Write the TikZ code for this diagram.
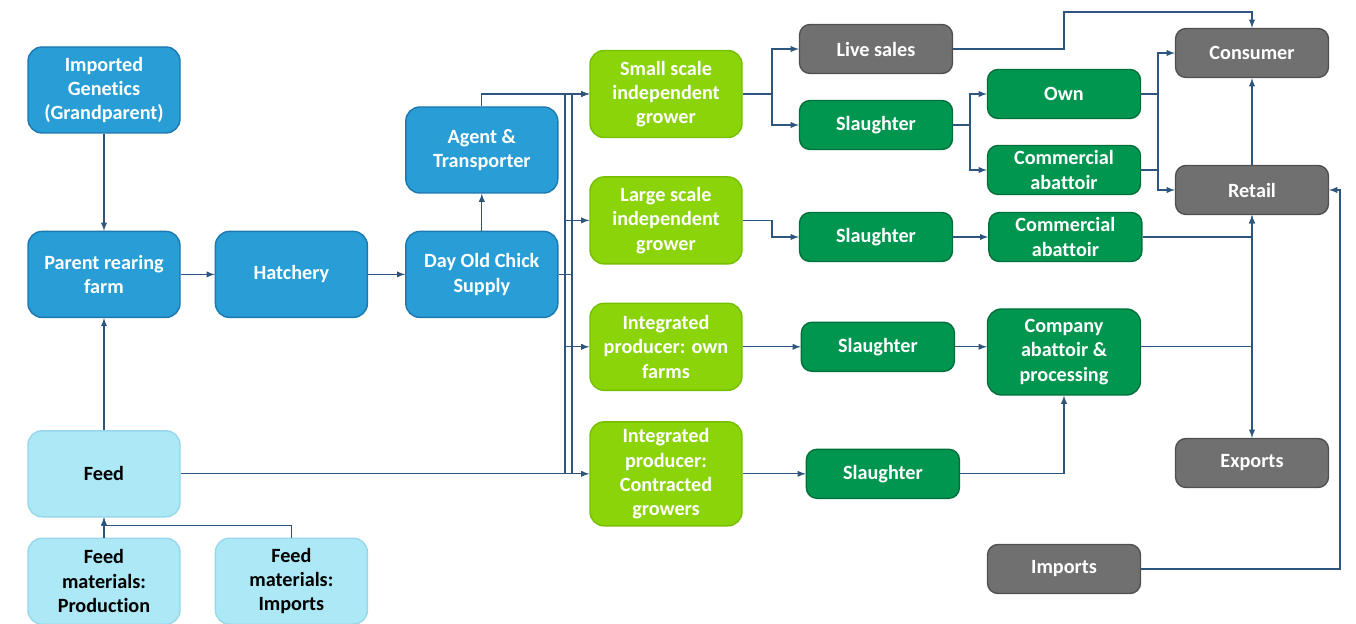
\documentclass[tikz,border=0pt]{standalone}
\usepackage{fontspec}
\setmainfont[Ligatures=NoCommon]{Carlito}
\usepackage{tikz}
\usetikzlibrary{arrows, positioning}
\definecolor{chainblue}{RGB}{41,158,214}
\definecolor{chainblueline}{RGB}{28,120,175}
\definecolor{feedcyan}{RGB}{172,232,246}
\definecolor{feedcyanline}{RGB}{150,215,235}
\definecolor{growgreen}{RGB}{140,212,10}
\definecolor{growgreenline}{RGB}{118,190,0}
\definecolor{slaughtergreen}{RGB}{0,150,80}
\definecolor{slaughtergreenline}{RGB}{0,112,58}
\definecolor{marketgrey}{RGB}{112,112,112}
\definecolor{marketgreyline}{RGB}{80,80,80}
\definecolor{flowline}{RGB}{45,85,125}
\tikzstyle{stage} = [rectangle, rounded corners=8pt, minimum width=3.04cm, minimum height=1.72cm, text centered, align=center, font=\bfseries\fontsize{11.5}{13.8}\selectfont, line width=0.8pt, inner sep=2pt]
\tikzstyle{supply} = [stage, draw=chainblueline, fill=chainblue, text=white]
\tikzstyle{feedbox} = [stage, draw=feedcyanline, fill=feedcyan, text=black]
\tikzstyle{grower} = [stage, draw=growgreenline, fill=growgreen, text=white, minimum height=1.74cm]
\tikzstyle{abattoir} = [stage, rounded corners=6pt, draw=slaughtergreenline, fill=slaughtergreen, text=white, minimum width=3.06cm, minimum height=0.98cm, inner sep=1pt]
\tikzstyle{market} = [abattoir, draw=marketgreyline, fill=marketgrey]
\tikzstyle{arrow} = [draw=flowline, line width=0.6pt, ->, >=latex]
\tikzstyle{link} = [draw=flowline, line width=0.6pt]

\begin{document}
\begin{tikzpicture}
\useasboundingbox (0,0) rectangle (27.12,-12.48);

% Breeding chain
\node (gen) [supply] at (2.08,-1.80) {Imported\\Genetics\\(Grandparent)};
\node (parent) [supply, below=1.94cm of gen] {Parent rearing\\farm};
\node (hatch) [supply, right=0.68cm of parent] {Hatchery};
\node (doc) [supply, right=0.74cm of hatch] {Day Old Chick\\Supply};
\node (agent) [supply, above=0.74cm of doc] {Agent \&\\Transporter};

% Feed
\node (feed) [feedbox, below=2.24cm of parent] {Feed};
\node (fmp) [feedbox, below=0.40cm of feed] {Feed\\materials:\\Production};
\node (fmi) [feedbox, right=0.68cm of fmp] {Feed\\materials:\\Imports};

% Growers
\node (sg) [grower] at (13.32,-1.88) {Small scale\\independent\\grower};
\node (lg) [grower, below=0.76cm of sg] {Large scale\\independent\\grower};
\node (io) [grower, below=0.76cm of lg] {Integrated\\producer: own\\farms};
\node (ic) [grower, minimum height=2.08cm] at (feed -| sg) {Integrated\\producer:\\Contracted\\growers};

% Slaughter
\node (live) [market] at (17.52,-0.98) {Live sales};
\node (sl1) [abattoir] at (17.52,-2.50) {Slaughter};
\node (sl2) [abattoir] at (17.52,-4.74) {Slaughter};
\node (sl3) [abattoir, right=1.16cm of io] {Slaughter};
\node (sl4) [abattoir, right=1.26cm of ic] {Slaughter};

% Abattoirs
\node (own) [abattoir] at (21.28,-1.88) {Own};
\node (ca1) [abattoir] at (21.28,-3.40) {Commercial\\abattoir};
\node (ca2) [abattoir, right=0.70cm of sl2] {Commercial\\abattoir};
\node (cap) [abattoir, minimum height=1.72cm, rounded corners=8pt] at (21.28,-7.04) {Company\\abattoir \&\\processing};

% Markets
\node (cons) [market] at (25.04,-1.06) {Consumer};
\node (retail) [market] at (25.04,-3.80) {Retail};
\node (exports) [market] at (25.04,-9.26) {Exports};
\node (imports) [market] at (21.28,-11.38) {Imports};

% Turning points
\coordinate (busA) at (11.30,0);
\coordinate (busB) at (11.44,0);
\coordinate (split1) at (15.44,0);
\coordinate (split2) at (19.40,0);
\coordinate (split3) at (23.16,0);
\coordinate (liveturn) at (21.28,-0.24);
\coordinate (importturn) at (26.80,0);

% Arrows
\draw [arrow] (gen) -- (parent);
\draw [arrow] (feed) -- (parent);
\draw [arrow] (parent) -- (hatch);
\draw [arrow] (hatch) -- (doc);
\draw [arrow] (doc) -- (agent);
\draw [arrow] (fmp) -- (feed);
\draw [arrow] (fmi.north) -- ++(0,0.24) -| (feed.south);

\draw [link] (busA |- sg.west) -- (busA |- ic.west);
\draw [link] (busB |- sg.west) -- (busB |- ic.west);
\draw [link] (doc.east) -- (doc.east -| busB);
\draw [arrow] (feed) -- (ic);
\draw [arrow] (agent.north) |- (sg.west);
\foreach \g in {sg, lg, io}
  \draw [arrow] (busA |- \g.west) -- (\g.west);

\draw [arrow] (sg.east) -- (sg.east -| split1) |- (live.west);
\draw [arrow] (sg.east) -- (sg.east -| split1) |- (sl1.west);
\draw [arrow] (lg.east) -- (lg.east -| split1) |- (sl2.west);
\draw [arrow] (io) -- (sl3);
\draw [arrow] (ic) -- (sl4);

\draw [arrow] (sl1.east) -- (sl1.east -| split2) |- (own.west);
\draw [arrow] (sl1.east) -- (sl1.east -| split2) |- (ca1.west);
\draw [arrow] (sl2) -- (ca2);
\draw [arrow] (sl3.east) -- (sl3.east -| cap.west);
\draw [arrow] (sl4.east) -| (cap.south);

\draw [arrow] (live.east) -| (liveturn) -| (cons.north);
\draw [arrow] (own.east) -- (own.east -| split3) |- (cons.west);
\draw [arrow] (own.east) -- (own.east -| split3) |- (retail.west);
\draw [link] (ca1.east) -- (ca1.east -| split3);
\draw [arrow] (retail) -- (cons);
\draw [arrow] (ca2.east) -| (retail.south);
\draw [arrow] (sl3.east -| cap.east) -| (retail.south);
\draw [arrow] (sl3.east -| cap.east) -| (exports.north);
\draw [arrow] (imports.east) -- (imports.east -| importturn) |- (retail.east);

\end{tikzpicture}
\end{document}
